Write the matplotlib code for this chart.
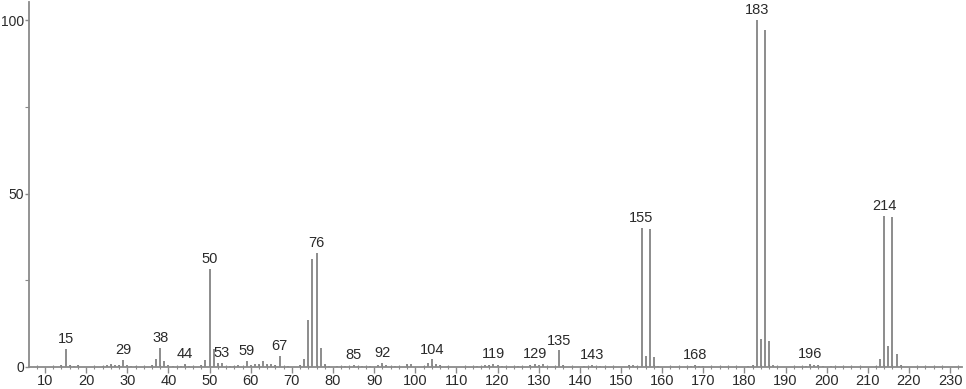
import matplotlib
matplotlib.use("Agg")
import matplotlib.pyplot as plt
from matplotlib.ticker import MultipleLocator

mz = [14, 15, 16, 17, 18, 24, 25, 26, 27, 28, 29, 30, 31, 32, 36, 37, 38, 39, 40, 41,
      43, 44, 45, 48, 49, 50, 51, 52, 53, 55, 56, 57, 59, 60, 61, 62, 63, 64, 65, 66, 67,
      69, 72, 73, 74, 75, 76, 77, 78, 79, 81, 83, 85, 86, 87, 89, 91, 92, 93, 95, 98, 99,
      102, 103, 104, 105, 106, 108, 115, 117, 118, 119, 120, 121, 125, 128, 129, 130, 131, 135,
      136, 141, 143, 145, 152, 153, 154, 155, 156, 157, 158, 159, 167, 168, 169, 170, 181, 182,
      183, 184, 185, 186, 187, 195, 196, 197, 198, 199, 201, 212, 213, 214, 215, 216, 217, 218]
intensity = [0.5, 5.2, 0.6, 0.4, 0.7, 0.3, 0.5, 0.8, 0.7, 0.6, 2.0, 0.7, 0.3, 0.3, 0.6, 2.3,
             5.4, 1.6, 0.5, 0.3, 0.4, 0.8, 0.4, 0.6, 2.0, 28.2, 5.2, 1.2, 1.2, 0.3, 0.3, 0.6,
             1.8, 0.5, 1.0, 1.0, 1.8, 1.0, 1.0, 0.5, 3.2, 0.4, 0.5, 2.4, 13.5, 31.1, 32.9, 5.4,
             0.8, 0.3, 0.3, 0.3, 0.5, 0.4, 0.4, 0.3, 0.7, 1.2, 0.5, 0.3, 1.0, 1.0, 0.3, 1.2, 2.2,
             1.0, 0.5, 0.3, 0.3, 0.5, 0.5, 1.0, 0.5, 0.3, 0.3, 0.5, 1.0, 0.5, 0.8, 4.8, 0.5, 0.3,
             0.5, 0.3, 0.5, 0.5, 0.3, 40.0, 3.3, 39.7, 3.0, 0.3, 0.3, 0.5, 0.4, 0.3, 0.3, 0.5,
             100.0, 8.2, 97.1, 7.6, 0.5, 0.3, 0.8, 0.6, 0.7, 0.3, 0.3, 0.3, 2.3, 43.5, 6.1, 43.3,
             3.8, 0.5]
labeled_mz = [15, 29, 38, 44, 50, 53, 59, 67, 76, 85, 92, 104, 119, 129, 135, 143, 155, 168,
              183, 196, 214]

plt.rcParams["font.family"] = ["Liberation Sans", "DejaVu Sans"]

fig = plt.figure(figsize=(9.66, 3.89), dpi=100)
ax = fig.add_axes([29 / 966, 22 / 389, 933 / 966, 365 / 389])

ax.vlines(mz, 0, intensity, colors="#6e6e6e", linewidth=1.1)

lookup = dict(zip(mz, intensity))
for m in labeled_mz:
    ax.annotate(str(m), xy=(m, lookup[m]), xytext=(0, 2), textcoords="offset points",
                ha="center", va="bottom", fontsize=10.5, color="#2a2a2a")

ax.set_xlim(6.1, 232.9)
ax.set_ylim(0, 105.2)

for s in ["top", "right"]:
    ax.spines[s].set_visible(False)
for s in ["left", "bottom"]:
    ax.spines[s].set_color("#8a8a8a")
    ax.spines[s].set_linewidth(1.3)

ax.xaxis.set_minor_locator(MultipleLocator(2))
ax.yaxis.set_major_locator(MultipleLocator(50))
ax.yaxis.set_minor_locator(MultipleLocator(25))
ax.set_xticks(list(range(10, 231, 10)))
ax.tick_params(axis="x", which="major", direction="out", length=4, width=1, color="#8a8a8a",
               labelsize=10.5, labelcolor="#2a2a2a", pad=1)
ax.tick_params(axis="x", which="minor", direction="inout", length=3, width=0.8, color="#8a8a8a")
ax.tick_params(axis="y", which="major", direction="out", length=3, width=1, color="#8a8a8a",
               labelsize=10, labelcolor="#2a2a2a", pad=0.5)
ax.tick_params(axis="y", which="minor", direction="out", length=3, width=0.8, color="#8a8a8a")

fig.savefig("out.png", dpi=100)
